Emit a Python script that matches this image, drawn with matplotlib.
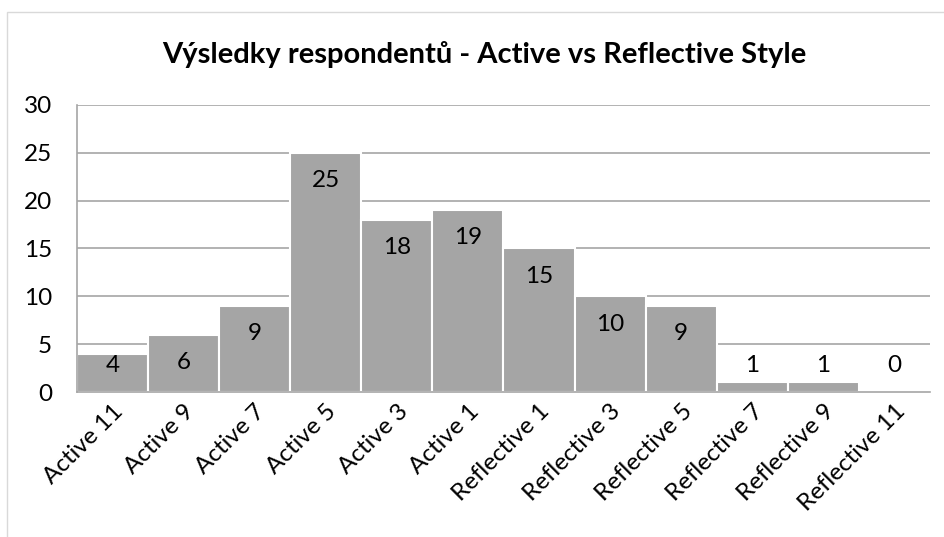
import matplotlib.pyplot as plt
from matplotlib.patches import Rectangle

categories = ["Active 11", "Active 9", "Active 7", "Active 5", "Active 3", "Active 1",
              "Reflective 1", "Reflective 3", "Reflective 5", "Reflective 7",
              "Reflective 9", "Reflective 11"]
counts = [4, 6, 9, 25, 18, 19, 15, 10, 9, 1, 1, 0]
y_ticks = [0, 5, 10, 15, 20, 25, 30]

plt.rcParams["font.family"] = ["Lato", "DejaVu Sans"]

fig = plt.figure(figsize=(9.45, 5.37), dpi=100)
ax = fig.add_axes([0.0815, 0.270, 0.9025, 0.5345])

# chart border like the Excel chart area
fig.patches.append(Rectangle((7 / 945, -0.1), 1.1, 1 - 12 / 537 + 0.1,
                             transform=fig.transFigure, fill=False,
                             edgecolor="#d9d9d9", linewidth=1))

x = range(len(categories))
ax.bar(x, counts, width=1.0, color="#a5a5a5", edgecolor="white", linewidth=1.5, zorder=2)

# data labels: inside end, but never lower than the baseline area
for i, v in zip(x, counts):
    ly = max(v - 2.9, 2.8)
    ax.text(i, ly, str(v), ha="center", va="center", fontsize=17.5, color="black", zorder=3)

ax.set_xlim(-0.5, len(categories) - 0.5)
ax.set_ylim(0, 30)
ax.set_yticks(y_ticks)
ax.yaxis.grid(True, color="#a6a6a6", linewidth=1.2, zorder=1)
ax.set_axisbelow(True)
ax.tick_params(axis="y", length=0, pad=18, labelsize=17.5)
ax.tick_params(axis="x", length=0, pad=6, labelsize=17.5)
ax.set_xticks(list(x))
ax.set_xticklabels(categories, rotation=45, ha="right", rotation_mode="anchor")

for side in ["top", "right"]:
    ax.spines[side].set_visible(False)
ax.spines["left"].set_color("#a6a6a6")
ax.spines["bottom"].set_color("#a6a6a6")
ax.spines["left"].set_linewidth(1.2)
ax.spines["bottom"].set_linewidth(1.2)

fig.text(484 / 945, 1 - 54 / 537, "Výsledky respondentů - Active vs Reflective Style",
         ha="center", va="center", fontsize=21, fontweight="bold")

fig.savefig("out.png", dpi=100)
